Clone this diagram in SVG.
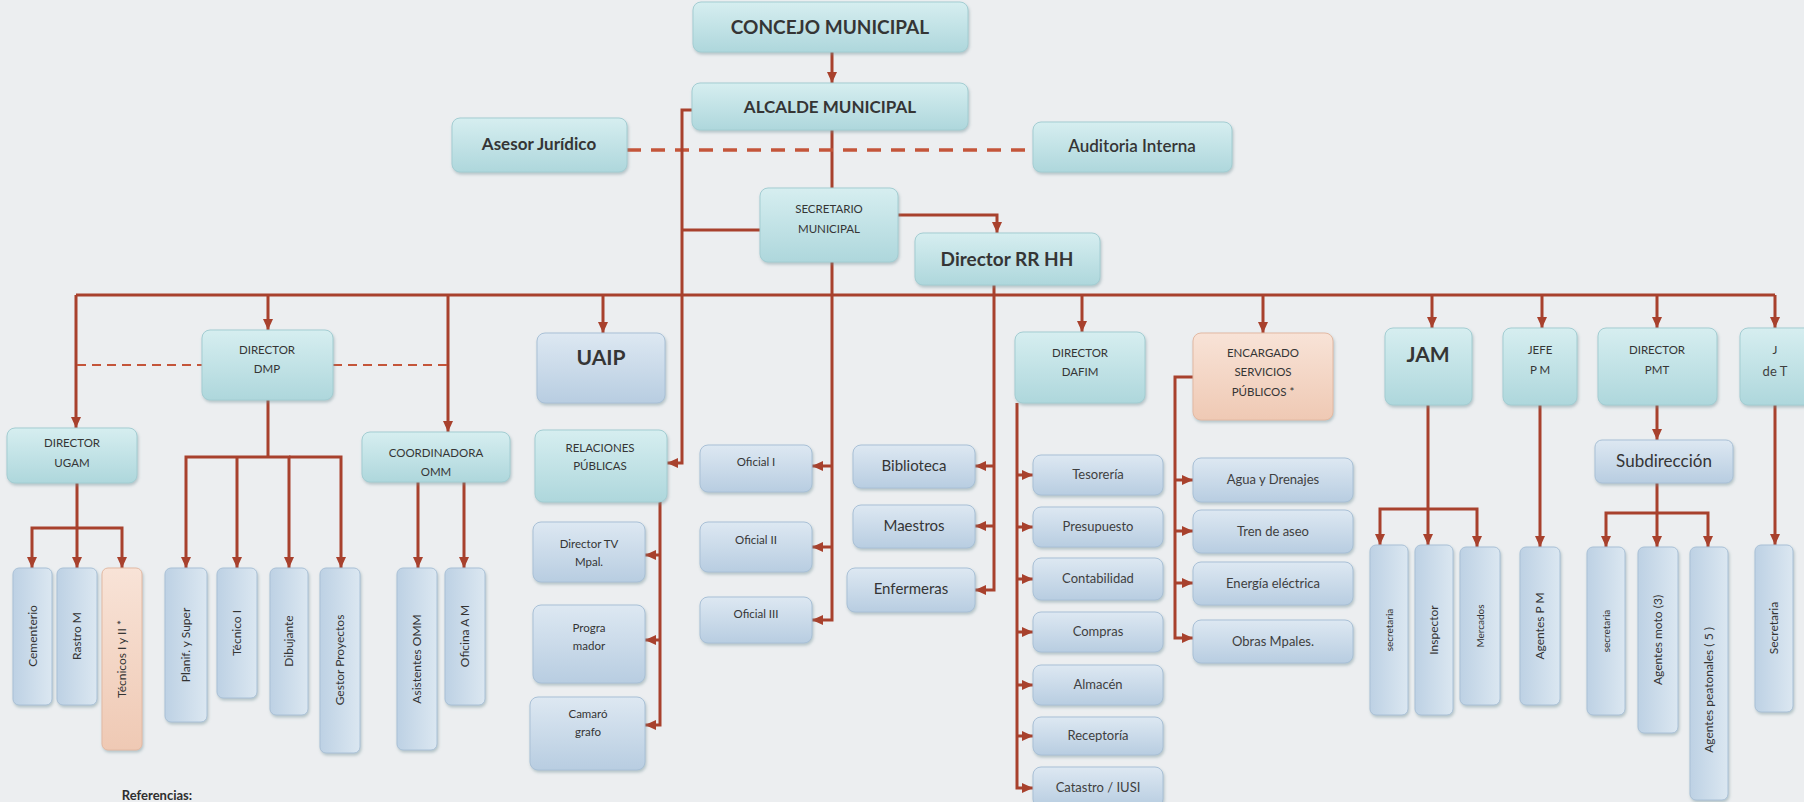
<svg xmlns="http://www.w3.org/2000/svg" width="1804" height="802" viewBox="0 0 1804 802">
<defs>
<linearGradient id="gT" x1="0" y1="0" x2="0" y2="1"><stop offset="0" stop-color="#d6eef0"/><stop offset="1" stop-color="#aed7dc"/></linearGradient>
<linearGradient id="gB" x1="0" y1="0" x2="0" y2="1"><stop offset="0" stop-color="#dde8f2"/><stop offset="1" stop-color="#b8cde1"/></linearGradient>
<linearGradient id="gBv" x1="0" y1="0" x2="1" y2="0"><stop offset="0" stop-color="#bdd1e4"/><stop offset="1" stop-color="#dbe7f1"/></linearGradient>
<linearGradient id="gP" x1="0" y1="0" x2="0" y2="1"><stop offset="0" stop-color="#f8e3d7"/><stop offset="1" stop-color="#efc9b4"/></linearGradient>
<filter id="sh" x="-20%" y="-20%" width="140%" height="140%"><feDropShadow dx="1" dy="2" stdDeviation="1.5" flood-color="#6f8f96" flood-opacity="0.45"/></filter>
<marker id="ah" markerWidth="12" markerHeight="12" refX="11" refY="6" orient="auto" markerUnits="userSpaceOnUse"><path d="M0,1 L11,6 L0,11 z" fill="#a8412d"/></marker>
</defs>
<style>
.t{fill:url(#gT);stroke:#a3cdd2;stroke-width:1;filter:url(#sh)}
.b{fill:url(#gB);stroke:#a9c0d6;stroke-width:1;filter:url(#sh)}
.v{fill:url(#gBv);stroke:#a9c0d6;stroke-width:1;filter:url(#sh)}
.p{fill:url(#gP);stroke:#e2b9a3;stroke-width:1;filter:url(#sh)}
text{font-family:Lato,"Open Sans","Liberation Sans",sans-serif;fill:#353535;text-anchor:middle}
.big{font-size:19px;font-weight:bold}
.mid{font-size:17px;font-weight:bold}
.sm{font-size:11.5px}
.md{font-size:15px}
.lf{font-size:13px;fill:#3f3f3f}
.vt{font-size:12px;fill:#333}
.c{fill:none;stroke:#a8412d;stroke-width:3}
.ca{fill:none;stroke:#a8412d;stroke-width:3;marker-end:url(#ah)}
.d1{fill:none;stroke:#c4553a;stroke-width:3.5;stroke-dasharray:14 10}
.d2{fill:none;stroke:#c4553a;stroke-width:2;stroke-dasharray:9 6}
</style>
<rect x="0" y="0" width="1804" height="802" fill="#eceef0"/>

<g id="connectors">
<path class="ca" d="M832,52 V83"/>
<path class="c" d="M832,130 V188"/>
<path class="d1" d="M627,150 H1033"/>
<path class="ca" d="M692,110 H682 V463 H667"/>
<path class="c" d="M682,230 H760"/>
<path class="ca" d="M898,215 H997 V233"/>
<path class="c" d="M76,295 H1775"/>
<path class="ca" d="M76,295 V428"/>
<path class="ca" d="M268,295 V330"/>
<path class="ca" d="M448,295 V432"/>
<path class="ca" d="M603,295 V333"/>
<path class="ca" d="M1082,295 V332"/>
<path class="ca" d="M1263,295 V333"/>
<path class="ca" d="M1432,295 V328"/>
<path class="ca" d="M1542,295 V328"/>
<path class="ca" d="M1657,295 V328"/>
<path class="ca" d="M1775,295 V328"/>
<path class="d2" d="M77,365 H202"/>
<path class="d2" d="M333,365 H448"/>
<path class="ca" d="M832,262 V620 H812"/>
<path class="ca" d="M832,466 H812"/>
<path class="ca" d="M832,547 H812"/>
<path class="ca" d="M994,285 V590 H975"/>
<path class="ca" d="M994,466 H975"/>
<path class="ca" d="M994,526 H975"/>
<path class="ca" d="M660,502 V725 H645"/>
<path class="ca" d="M660,555 H645"/>
<path class="ca" d="M660,640 H645"/>
<path class="ca" d="M1017,403 V788 H1033"/>
<path class="ca" d="M1017,475 H1033"/>
<path class="ca" d="M1017,527 H1033"/>
<path class="ca" d="M1017,579 H1033"/>
<path class="ca" d="M1017,632 H1033"/>
<path class="ca" d="M1017,685 H1033"/>
<path class="ca" d="M1017,736 H1033"/>
<path class="ca" d="M1193,377 H1175 V638 H1193"/>
<path class="ca" d="M1175,480 H1193"/>
<path class="ca" d="M1175,531 H1193"/>
<path class="ca" d="M1175,583 H1193"/>
<path class="ca" d="M77,483 V568"/>
<path class="ca" d="M77,528 H32 V568"/>
<path class="ca" d="M77,528 H122 V568"/>
<path class="c" d="M268,400 V457"/>
<path class="ca" d="M268,457 H186 V568"/>
<path class="ca" d="M237,457 V568"/>
<path class="ca" d="M268,457 H289 V568"/>
<path class="ca" d="M289,457 H341 V568"/>
<path class="ca" d="M418,482 V568"/>
<path class="ca" d="M464,482 V568"/>
<path class="ca" d="M1428,405 V545"/>
<path class="ca" d="M1428,509 H1380 V545"/>
<path class="ca" d="M1428,509 H1477 V547"/>
<path class="ca" d="M1540,405 V547"/>
<path class="ca" d="M1657,405 V440"/>
<path class="ca" d="M1657,483 V547"/>
<path class="ca" d="M1657,513 H1606 V547"/>
<path class="ca" d="M1657,513 H1708 V547"/>
<path class="ca" d="M1775,405 V545"/>
</g>

<g id="concejo"><rect class="t" x="693" y="2" width="275" height="50" rx="8"/><text class="big" x="830" y="34">CONCEJO MUNICIPAL</text></g>
<g id="alcalde"><rect class="t" x="692" y="83" width="276" height="47" rx="8"/><text class="mid" x="830" y="113">ALCALDE MUNICIPAL</text></g>
<g id="asesor"><rect class="t" x="452" y="118" width="175" height="54" rx="8"/><text class="mid" x="539" y="150">Asesor Jurídico</text></g>
<g id="auditoria"><rect class="t" x="1033" y="122" width="199" height="50" rx="8"/><text class="mid" x="1132" y="152" style="font-weight:600">Auditoria Interna</text></g>
<g id="secretario"><rect class="t" x="760" y="188" width="138" height="74" rx="8"/><text class="sm" x="829" y="213">SECRETARIO</text><text class="sm" x="829" y="233">MUNICIPAL</text></g>
<g id="rrhh"><rect class="t" x="915" y="233" width="185" height="52" rx="8"/><text class="big" x="1007" y="266">Director RR HH</text></g>

<g id="ugam"><rect class="t" x="7" y="428" width="130" height="55" rx="8"/><text class="sm" x="72" y="447">DIRECTOR</text><text class="sm" x="72" y="467">UGAM</text></g>
<g id="dmp"><rect class="t" x="202" y="330" width="131" height="70" rx="8"/><text class="sm" x="267" y="354">DIRECTOR</text><text class="sm" x="267" y="373">DMP</text></g>
<g id="coordinadora"><rect class="t" x="362" y="432" width="148" height="50" rx="8"/><text class="sm" x="436" y="457">COORDINADORA</text><text class="sm" x="436" y="476">OMM</text></g>
<g id="uaip"><rect class="b" x="537" y="333" width="128" height="70" rx="8"/><text class="big" x="601" y="365" style="font-size:21px">UAIP</text></g>
<g id="relaciones"><rect class="t" x="535" y="430" width="132" height="72" rx="8"/><text class="sm" x="600" y="452">RELACIONES</text><text class="sm" x="600" y="470">PÚBLICAS</text></g>
<g id="dafim"><rect class="t" x="1015" y="332" width="130" height="71" rx="8"/><text class="sm" x="1080" y="357">DIRECTOR</text><text class="sm" x="1080" y="376">DAFIM</text></g>
<g id="encargado"><rect class="p" x="1193" y="333" width="140" height="87" rx="8"/><text class="sm" x="1263" y="357">ENCARGADO</text><text class="sm" x="1263" y="376">SERVICIOS</text><text class="sm" x="1263" y="396">PÚBLICOS *</text></g>
<g id="jam"><rect class="t" x="1385" y="328" width="87" height="77" rx="8"/><text class="big" x="1428" y="362" style="font-size:21px">JAM</text></g>
<g id="jefepm"><rect class="t" x="1503" y="328" width="74" height="77" rx="8"/><text class="sm" x="1540" y="354">JEFE</text><text class="sm" x="1540" y="374">P M</text></g>
<g id="pmt"><rect class="t" x="1598" y="328" width="119" height="77" rx="8"/><text class="sm" x="1657" y="354">DIRECTOR</text><text class="sm" x="1657" y="374">PMT</text></g>
<g id="jdet"><rect class="t" x="1740" y="328" width="80" height="77" rx="8"/><text class="sm" x="1775" y="354">J</text><text class="lf" x="1775" y="376">de T</text></g>
<g id="subdireccion"><rect class="b" x="1595" y="440" width="138" height="43" rx="7"/><text class="md" x="1664" y="467" style="font-size:17px">Subdirección</text></g>

<g id="cementerio"><rect class="v" x="13" y="568" width="39" height="137" rx="6"/><text class="vt" transform="translate(33,636) rotate(-90)" dy="4">Cementerio</text></g>
<g id="rastro"><rect class="v" x="57" y="568" width="40" height="137" rx="6"/><text class="vt" transform="translate(77,636) rotate(-90)" dy="4">Rastro M</text></g>
<g id="tecnicos"><rect class="p" x="102" y="568" width="40" height="182" rx="6"/><text class="vt" transform="translate(122,659) rotate(-90)" dy="4">Técnicos I y II *</text></g>
<g id="planif"><rect class="v" x="165" y="568" width="42" height="154" rx="6"/><text class="vt" transform="translate(186,645) rotate(-90)" dy="4">Planif. y Super</text></g>
<g id="tecnico1"><rect class="v" x="217" y="568" width="40" height="130" rx="6"/><text class="vt" transform="translate(237,633) rotate(-90)" dy="4">Técnico I</text></g>
<g id="dibujante"><rect class="v" x="270" y="568" width="38" height="147" rx="6"/><text class="vt" transform="translate(289,641) rotate(-90)" dy="4">Dibujante</text></g>
<g id="gestor"><rect class="v" x="320" y="568" width="40" height="185" rx="6"/><text class="vt" transform="translate(340,660) rotate(-90)" dy="4">Gestor Proyectos</text></g>
<g id="asistentes"><rect class="v" x="397" y="568" width="40" height="182" rx="6"/><text class="vt" transform="translate(417,659) rotate(-90)" dy="4">Asistentes OMM</text></g>
<g id="oficina"><rect class="v" x="445" y="568" width="40" height="137" rx="6"/><text class="vt" transform="translate(465,636) rotate(-90)" dy="4">Oficina A M</text></g>

<g id="directortv"><rect class="b" x="533" y="522" width="112" height="60" rx="8"/><text class="sm" x="589" y="548">Director TV</text><text class="sm" x="589" y="566">Mpal.</text></g>
<g id="programador"><rect class="b" x="533" y="605" width="112" height="78" rx="8"/><text class="sm" x="589" y="632">Progra</text><text class="sm" x="589" y="650">mador</text></g>
<g id="camarografo"><rect class="b" x="530" y="697" width="115" height="73" rx="8"/><text class="sm" x="588" y="718">Camaró</text><text class="sm" x="588" y="736">grafo</text></g>

<g id="oficial1"><rect class="b" x="700" y="445" width="112" height="47" rx="8"/><text class="sm" x="756" y="466">Oficial I</text></g>
<g id="oficial2"><rect class="b" x="700" y="522" width="112" height="50" rx="8"/><text class="sm" x="756" y="544">Oficial II</text></g>
<g id="oficial3"><rect class="b" x="700" y="597" width="112" height="46" rx="8"/><text class="sm" x="756" y="618">Oficial III</text></g>

<g id="biblioteca"><rect class="b" x="853" y="445" width="122" height="43" rx="8"/><text class="md" x="914" y="471">Biblioteca</text></g>
<g id="maestros"><rect class="b" x="853" y="505" width="122" height="43" rx="8"/><text class="md" x="914" y="531">Maestros</text></g>
<g id="enfermeras"><rect class="b" x="847" y="568" width="128" height="44" rx="8"/><text class="md" x="911" y="594">Enfermeras</text></g>

<g id="tesoreria"><rect class="b" x="1033" y="455" width="130" height="40" rx="8"/><text class="lf" x="1098" y="479">Tesorería</text></g>
<g id="presupuesto"><rect class="b" x="1033" y="507" width="130" height="40" rx="8"/><text class="lf" x="1098" y="531">Presupuesto</text></g>
<g id="contabilidad"><rect class="b" x="1033" y="558" width="130" height="42" rx="8"/><text class="lf" x="1098" y="583">Contabilidad</text></g>
<g id="compras"><rect class="b" x="1033" y="612" width="130" height="40" rx="8"/><text class="lf" x="1098" y="636">Compras</text></g>
<g id="almacen"><rect class="b" x="1033" y="665" width="130" height="40" rx="8"/><text class="lf" x="1098" y="689">Almacén</text></g>
<g id="receptoria"><rect class="b" x="1033" y="717" width="130" height="38" rx="8"/><text class="lf" x="1098" y="740">Receptoría</text></g>
<g id="catastro"><rect class="b" x="1033" y="767" width="130" height="40" rx="8"/><text class="lf" x="1098" y="792">Catastro / IUSI</text></g>

<g id="agua"><rect class="b" x="1193" y="458" width="160" height="44" rx="8"/><text class="lf" x="1273" y="484">Agua y Drenajes</text></g>
<g id="tren"><rect class="b" x="1193" y="510" width="160" height="43" rx="8"/><text class="lf" x="1273" y="536">Tren de aseo</text></g>
<g id="energia"><rect class="b" x="1193" y="562" width="160" height="43" rx="8"/><text class="lf" x="1273" y="588">Energía eléctrica</text></g>
<g id="obras"><rect class="b" x="1193" y="620" width="160" height="43" rx="8"/><text class="lf" x="1273" y="646">Obras Mpales.</text></g>

<g id="secretaria-jam"><rect class="v" x="1370" y="545" width="38" height="170" rx="6"/><text class="vt" transform="translate(1389,630) rotate(-90)" dy="4" style="font-size:10px">secretaria</text></g>
<g id="inspector"><rect class="v" x="1415" y="545" width="38" height="170" rx="6"/><text class="vt" transform="translate(1434,630) rotate(-90)" dy="4">Inspector</text></g>
<g id="mercados"><rect class="v" x="1460" y="547" width="40" height="158" rx="6"/><text class="vt" transform="translate(1480,626) rotate(-90)" dy="4" style="font-size:10px">Mercados</text></g>
<g id="agentespm"><rect class="v" x="1520" y="547" width="40" height="158" rx="6"/><text class="vt" transform="translate(1540,626) rotate(-90)" dy="4">Agentes P M</text></g>
<g id="secretaria-pmt"><rect class="v" x="1587" y="547" width="38" height="168" rx="6"/><text class="vt" transform="translate(1606,631) rotate(-90)" dy="4" style="font-size:10px">secretaria</text></g>
<g id="agentesmoto"><rect class="v" x="1638" y="547" width="40" height="186" rx="6"/><text class="vt" transform="translate(1658,640) rotate(-90)" dy="4">Agentes moto (3)</text></g>
<g id="agentespeatonales"><rect class="v" x="1690" y="547" width="38" height="253" rx="6"/><text class="vt" transform="translate(1709,690) rotate(-90)" dy="4">Agentes peatonales ( 5 )</text></g>
<g id="secretaria-jdet"><rect class="v" x="1755" y="545" width="38" height="167" rx="6"/><text class="vt" transform="translate(1774,628) rotate(-90)" dy="4">Secretaria</text></g>

<text x="157" y="800" style="font-size:13px;font-weight:bold;fill:#2f2f2f">Referencias:</text>
</svg>
